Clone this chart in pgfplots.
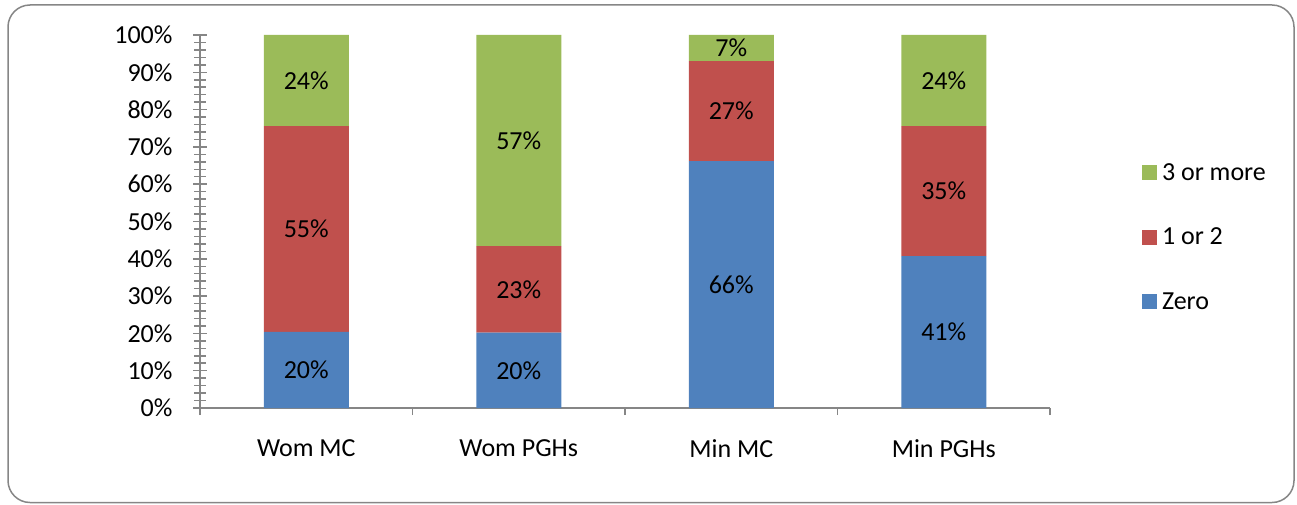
\documentclass[border=0pt]{standalone}
\usepackage{pgfplots}
\usepackage{pgfplotstable}
\pgfplotsset{compat=1.18}
\usepackage{fontspec}
\setmainfont{Carlito}
\definecolor{cblue}{HTML}{4F81BD}
\definecolor{cred}{HTML}{C0504D}
\definecolor{cgreen}{HTML}{9BBB59}
\definecolor{axgray}{HTML}{868686}

\pgfplotstableread{
x zero one three
0 20.4 55.2 24.4
1 20.2 23.2 56.6
2 66.2 26.8 7.0
3 40.7 34.9 24.4
}\datatable

\pgfplotstableread{
x y label
0 10.2 20
0 48.0 55
0 87.8 24
1 10.1 20
1 31.8 23
1 71.7 57
2 33.1 66
2 79.6 27
2 96.5 7
3 20.35 41
3 58.15 35
3 87.8 24
}\labeltable

\newcommand{\bigf}{\fontsize{26}{31}\selectfont}

\begin{document}
\begin{tikzpicture}
\useasboundingbox (0,0) rectangle (1297pt,504pt);
\draw[axgray, line width=1.5pt, rounded corners=22pt] (8pt,1.5pt) rectangle (1294pt,499pt);

\begin{axis}[
  at={(200pt,96pt)}, anchor=south west,
  scale only axis, width=850pt, height=373pt,
  ybar stacked, bar width=85pt,
  xmin=-0.5, xmax=3.5, ymin=0, ymax=100,
  axis x line*=bottom, axis y line=none,
  axis line style={axgray, line width=1.5pt},
  tick style={axgray, line width=1.5pt},
  tick align=inside, major tick length=7pt,
  xtick={0,1,2,3},
  xticklabels={Wom MC,Wom PGHs,Min MC,Min PGHs},
  extra x ticks={-0.5,0.5,1.5,2.5,3.5},
  extra x tick labels={},
  extra x tick style={tick align=outside},
  xticklabel style={font=\bigf, text=black, yshift=-28pt},
  reverse legend,
  legend image code/.code={\fill[#1] (0pt,-7.5pt) rectangle (15pt,7.5pt);},
  legend style={at={(1.108,0.458)}, anchor=west, draw=none, fill=none,
    inner sep=0pt, font=\bigf, row sep=42pt, column sep=3pt, cells={anchor=west}},
]
\addplot[fill=cblue, draw=none] table[x=x,y=zero]{\datatable};
\addplot[fill=cred, draw=none] table[x=x,y=one]{\datatable};
\addplot[fill=cgreen, draw=none] table[x=x,y=three]{\datatable};
\legend{Zero,1 or 2,3 or more}
\end{axis}

\begin{axis}[
  at={(200pt,96pt)}, anchor=south west,
  scale only axis, width=850pt, height=373pt,
  xmin=-0.5, xmax=3.5, ymin=0, ymax=100,
  axis x line=none, axis y line*=left,
  axis line style={axgray, line width=1.5pt},
  tick style={axgray, line width=1.5pt},
  tick align=center, major tick length=14pt, minor tick length=12pt,
  ytick={0,10,...,100}, minor y tick num=4,
  /pgf/number format/assume math mode=true,
  yticklabel={\pgfmathprintnumber{\tick}\%},
  yticklabel style={font=\bigf, text=black, xshift=-17pt},
]
\addplot[draw=none, mark=none, point meta=explicit symbolic,
  nodes near coords={\pgfplotspointmeta\%},
  every node near coord/.style={anchor=center, font=\bigf, text=black}]
  table[x=x, y=y, meta=label]{\labeltable};
\end{axis}
\end{tikzpicture}
\end{document}
